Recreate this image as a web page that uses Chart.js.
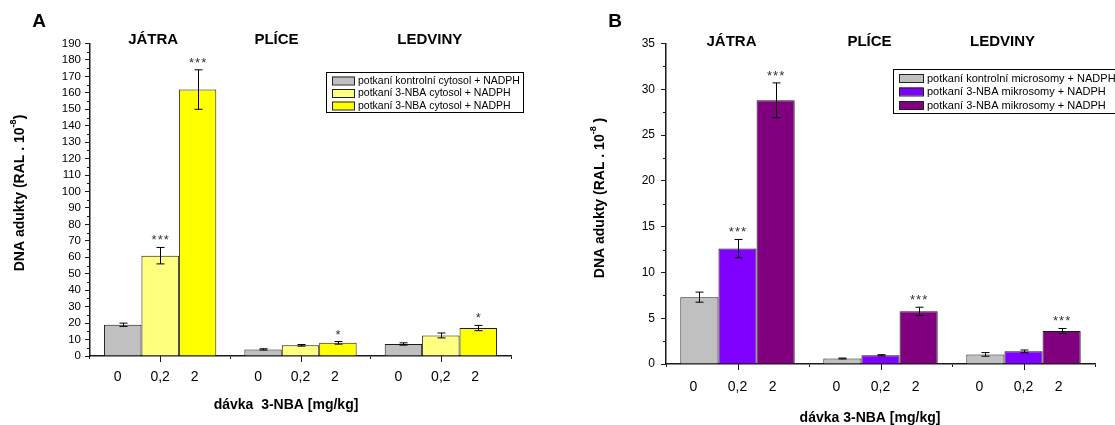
<!DOCTYPE html>
<html>
<head>
<meta charset="utf-8">
<script src="https://cdn.jsdelivr.net/npm/chart.js@4/dist/chart.umd.min.js"></script>
<style>
  html, body { margin: 0; padding: 0; background: #fff; }
  #wrap { position: relative; width: 1115px; height: 425px; overflow: hidden; }
  canvas { position: absolute; top: 0; }
  #chartA { left: 0; }
  #chartB { left: 557px; }
</style>
</head>
<body>
<div id="wrap">
  <canvas id="chartA" width="557" height="425"></canvas>
  <canvas id="chartB" width="558" height="425"></canvas>
</div>
<script>
const ORGANS = ["JÁTRA", "PLÍCE", "LEDVINY"];
const DOSES = ["0", "0,2", "2"];

// A - cytosol
const cytoControl = [19, 4, 7.3];
const cytoControlErr = [1, 0.4, 0.7];
const cyto02 = [61, 6.5, 12.5];
const cyto02Err = [5, 0.5, 1.5];
const cyto2 = [162, 8, 17];
const cyto2Err = [12, 0.8, 1.6];
const cytoStars = [["", "", ""], ["***", "", ""], ["***", "*", "*"]];

// B - microsomes
const micControl = [7.3, 0.6, 1.05];
const micControlErr = [0.55, 0.05, 0.2];
const mic02 = [12.6, 0.95, 1.38];
const mic02Err = [1.0, 0.07, 0.15];
const mic2 = [28.8, 5.75, 3.6];
const mic2Err = [1.9, 0.45, 0.28];
const micStars = [["", "", ""], ["***", "", ""], ["***", "***", "***"]];

const FONT = "'Liberation Sans', Arial, Helvetica, sans-serif";
const INK = "#1a1a1a";

function bold(size) { return "bold " + size + "px " + FONT; }
function plain(size) { return size + "px " + FONT; }

// everything Chart.js has no option for: error bars, stars, dose labels,
// organ headings, minor ticks, axis titles and the boxed legend
const extras = {
  id: "extras",
  afterDraw(chart, args, o) {
    const ctx = chart.ctx;
    const xs = chart.scales.x, ys = chart.scales.y;
    const area = chart.chartArea;
    ctx.save();
    ctx.fillStyle = "#000";
    ctx.strokeStyle = INK;

    // minor ticks on y
    ctx.lineWidth = 1;
    ctx.beginPath();
    for (let v = o.minor; v < ys.max; v += o.major) {
      const py = Math.round(ys.getPixelForValue(v)) + 0.5;
      ctx.moveTo(area.left - 3, py);
      ctx.lineTo(area.left, py);
    }
    // category centre ticks on x
    ORGANS.forEach((_, i) => {
      const px = Math.round(xs.getPixelForValue(i)) + 0.5;
      ctx.moveTo(px, area.bottom);
      ctx.lineTo(px, area.bottom + 6);
    });
    ctx.stroke();

    // error bars, stars and dose labels
    chart.data.datasets.forEach((ds, di) => {
      const meta = chart.getDatasetMeta(di);
      meta.data.forEach((bar, i) => {
        const v = ds.data[i], e = ds.errors[i];
        const top = ys.getPixelForValue(v + e);
        const bot = ys.getPixelForValue(v - e);
        const bx = Math.round(bar.x) + 0.5;
        ctx.strokeStyle = "#000";
        ctx.lineWidth = 1;
        ctx.beginPath();
        ctx.moveTo(bx, top); ctx.lineTo(bx, bot);
        ctx.moveTo(bx - 4, top); ctx.lineTo(bx + 4, top);
        ctx.moveTo(bx - 4, bot); ctx.lineTo(bx + 4, bot);
        ctx.stroke();
        if (ds.stars[i]) {
          ctx.font = plain(13);
          ctx.textAlign = "center";
          ctx.textBaseline = "alphabetic";
          ctx.fillStyle = "#333";
          ctx.fillText(ds.stars[i].split("").join("\u200a"), bar.x, top - 3);
        }
        ctx.fillStyle = "#000";
        ctx.font = plain(14);
        ctx.textAlign = "center";
        ctx.textBaseline = "middle";
        ctx.fillText(DOSES[di], bar.x + o.doseShift[di], o.doseY);
      });
    });

    // organ headings
    ctx.font = bold(15);
    ctx.textAlign = "center";
    ctx.textBaseline = "middle";
    ORGANS.forEach((name, i) => {
      ctx.fillText(name, xs.getPixelForValue(i) + o.headShift[i], o.headY);
    });

    // panel letter
    ctx.font = bold(19);
    ctx.fillText(o.letter, o.letterX, 22);

    // x title
    ctx.font = bold(14);
    ctx.fillText(o.xTitle, o.xTitleX, o.xTitleY);

    // y title with superscript exponent
    ctx.save();
    ctx.translate(o.yTitleX, o.yTitleY);
    ctx.rotate(-Math.PI / 2);
    ctx.textAlign = "left";
    ctx.textBaseline = "middle";
    const main = "DNA adukty (RAL . 10", exp = "-8", tail = o.yTail;
    ctx.font = bold(14);
    const wMain = ctx.measureText(main).width, wTail = ctx.measureText(tail).width;
    ctx.font = bold(9);
    const wExp = ctx.measureText(exp).width;
    let tx = -(wMain + wExp + wTail) / 2;
    ctx.font = bold(14);
    ctx.fillText(main, tx, 0);
    tx += wMain;
    ctx.font = bold(9);
    ctx.fillText(exp, tx, -6);
    tx += wExp;
    ctx.font = bold(14);
    ctx.fillText(tail, tx, 0);
    ctx.restore();

    // legend box
    const lg = o.legend;
    ctx.lineWidth = 1;
    ctx.strokeStyle = "#000";
    ctx.strokeRect(lg.x + 0.5, lg.y + 0.5, lg.w, lg.h);
    ctx.font = plain(lg.size);
    ctx.textAlign = "left";
    ctx.textBaseline = "middle";
    chart.data.datasets.forEach((ds, i) => {
      const cy = lg.y + lg.first + i * lg.step;
      ctx.fillStyle = ds.backgroundColor;
      ctx.fillRect(lg.x + lg.sw0, cy - 4, lg.sw, 8);
      ctx.strokeStyle = "#222";
      ctx.strokeRect(lg.x + lg.sw0 + 0.5, cy - 4 + 0.5, lg.sw, 8);
      ctx.fillStyle = "#000";
      ctx.fillText(ds.label, lg.x + lg.sw0 + lg.sw + 4, cy + 0.5);
    });

    ctx.restore();
  }
};

function makePanel(id, sets, axis, pad, extra) {
  return new Chart(document.getElementById(id), {
    type: "bar",
    data: {
      labels: ORGANS,
      datasets: sets.map(s => ({
        label: s.label,
        data: s.data,
        errors: s.errors,
        stars: s.stars,
        backgroundColor: s.color,
        borderColor: INK,
        borderWidth: 1,
        categoryPercentage: 0.8,
        barPercentage: 1.0
      }))
    },
    options: {
      responsive: false,
      animation: false,
      events: [],
      layout: { padding: { left: 0, top: pad.top, right: pad.right, bottom: 0 } },
      plugins: { legend: { display: false }, tooltip: { enabled: false }, extras: extra },
      scales: {
        x: {
          ticks: { display: false },
          grid: { drawOnChartArea: false, drawTicks: true, tickLength: 3, color: INK, offset: true },
          border: { color: INK, width: 1.5 },
          afterFit: s => { s.height = pad.xHeight; }
        },
        y: {
          min: 0,
          max: axis.max,
          ticks: { stepSize: axis.step, autoSkip: false, color: "#000", font: { family: FONT, size: axis.font }, padding: axis.gap },
          grid: { drawOnChartArea: false, drawTicks: true, tickLength: 5, color: INK },
          border: { color: INK, width: 1.5 },
          afterFit: s => { s.width = pad.yWidth; }
        }
      }
    },
    plugins: [extras]
  });
}

makePanel("chartA", [
  { label: "potkaní kontrolní cytosol + NADPH", data: cytoControl, errors: cytoControlErr, stars: cytoStars[0], color: "#c0c0c0" },
  { label: "potkaní 3-NBA cytosol + NADPH", data: cyto02, errors: cyto02Err, stars: cytoStars[1], color: "#ffff80" },
  { label: "potkaní 3-NBA cytosol + NADPH", data: cyto2, errors: cyto2Err, stars: cytoStars[2], color: "#ffff00" }
], { max: 190, step: 10, font: 11.5, gap: 4 },
   { top: 43.5, right: 46, xHeight: 69, yWidth: 90 },
   { minor: 5, major: 10, doseShift: [-5, 0, -3], doseY: 377, headShift: [-7, -24, -11], headY: 40,
     letter: "A", letterX: 39, xTitle: "dávka  3-NBA [mg/kg]", xTitleX: 286, xTitleY: 405,
     yTitleX: 20, yTitleY: 193, yTail: ")",
     legend: { x: 326, y: 72, w: 197, h: 40, first: 8.5, step: 12.5, sw0: 6, sw: 22, size: 10.5 } });

makePanel("chartB", [
  { label: "potkaní kontrolní microsomy + NADPH", data: micControl, errors: micControlErr, stars: micStars[0], color: "#c0c0c0" },
  { label: "potkaní 3-NBA mikrosomy + NADPH", data: mic02, errors: mic02Err, stars: micStars[1], color: "#8000ff" },
  { label: "potkaní 3-NBA mikrosomy + NADPH", data: mic2, errors: mic2Err, stars: micStars[2], color: "#800080" }
], { max: 35, step: 5, font: 12, gap: 6 },
   { top: 43.5, right: 20, xHeight: 61, yWidth: 109 },
   { minor: 2.5, major: 5, doseShift: [-6, 0, -3], doseY: 387, headShift: [-6, -11, -21], headY: 42,
     letter: "B", letterX: 58, xTitle: "dávka 3-NBA [mg/kg]", xTitleX: 313, xTitleY: 418,
     yTitleX: 43, yTitleY: 198, yTail: " )",
     legend: { x: 336, y: 69, w: 240, h: 44, first: 9, step: 13.5, sw0: 6, sw: 24, size: 11 } });
</script>
</body>
</html>
